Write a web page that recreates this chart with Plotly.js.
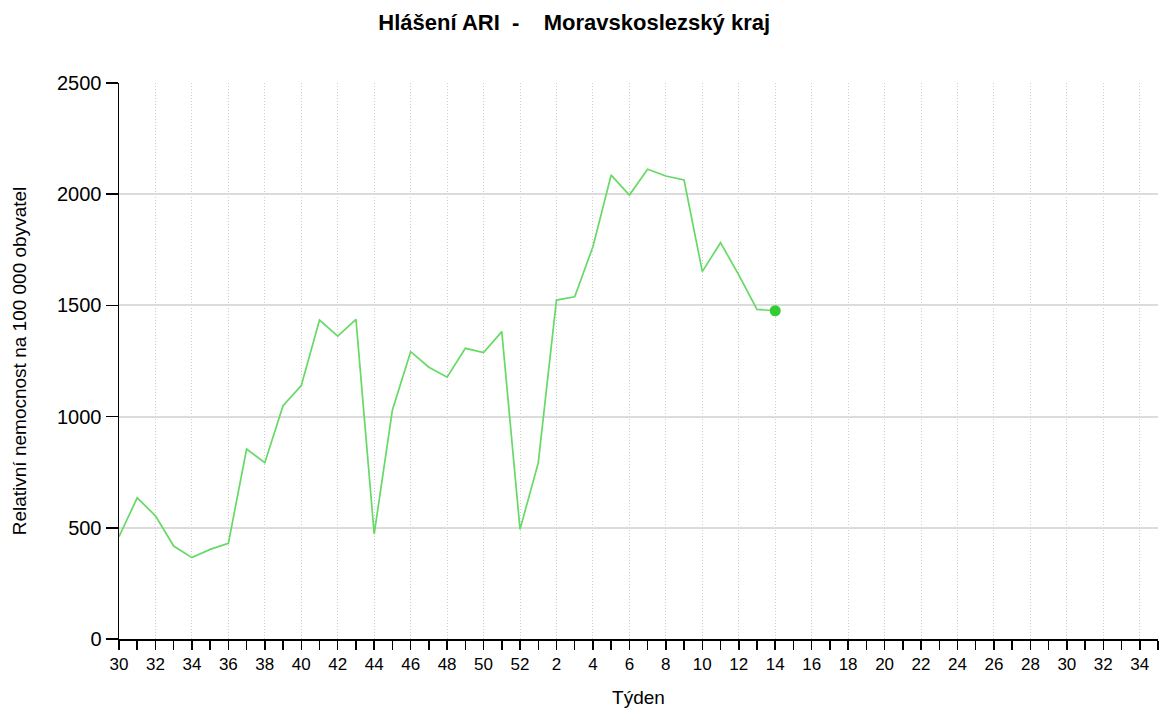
<!DOCTYPE html>
<html>
<head>
<meta charset="utf-8">
<script src="https://cdn.plot.ly/plotly-3.0.1.min.js"></script>
<style>html,body{margin:0;padding:0;background:#fff;}#chart{width:1160px;height:709px;}</style>
</head>
<body>
<div id="chart"></div>
<script>
// Week labels along the x axis (season week 30 .. week 35 of next year)
const weeks = [30,31,32,33,34,35,36,37,38,39,40,41,42,43,44,45,46,47,48,49,50,51,52,
               1,2,3,4,5,6,7,8,9,10,11,12,13,14,15,16,17,18,19,20,21,22,23,24,25,26,27,28,29,30,31,32,33,34,35];
// Reported values (weeks 30..52, 1..14)
const values = [460,635,554,418,366,403,430,854,793,1049,1140,1434,1362,1437,472,1030,1292,1222,1177,1307,1288,1382,493,
                792,1524,1539,1764,2086,1996,2112,2082,2064,1652,1782,1637,1482,1476];
const titleText = 'Hlášení ARI  -    Moravskoslezský kraj';
const yTitle = 'Relativní nemocnost na 100 000 obyvatel';
const xTitle = 'Týden';

const xs = values.map((v, i) => i);
const tickIdx = weeks.map((w, i) => i).filter(i => i % 2 === 0);
const tickTxt = tickIdx.map(i => String(weeks[i]));
const last = values.length - 1;

const FONT = 'Liberation Sans, Arial, sans-serif';

const traces = [
  {x: xs, y: values, type: 'scatter', mode: 'lines',
   line: {color: '#66d966', width: 1.7}, hoverinfo: 'x+y', showlegend: false},
  {x: [xs[last]], y: [values[last]], type: 'scatter', mode: 'markers',
   marker: {color: '#33cc33', size: 11}, showlegend: false}
];

const layout = {
  width: 1160, height: 709,
  margin: {l: 119, r: 2, t: 83, b: 70},
  paper_bgcolor: '#fff', plot_bgcolor: '#fff',
  font: {family: FONT, color: '#000'},
  title: {text: '<b>' + titleText + '</b>', x: 0.495, xanchor: 'center', y: 0.968, yanchor: 'middle',
          font: {size: 22, family: FONT, color: '#000'}},
  xaxis: {
    range: [0, weeks.length - 1],
    tickmode: 'array', tickvals: tickIdx, ticktext: tickTxt,
    ticks: 'outside', ticklen: 9, tickwidth: 1.5, tickcolor: '#000',
    showline: true, linecolor: '#000', linewidth: 1.5,
    showgrid: true, gridcolor: '#cfcfcf', griddash: '1px,2px', gridwidth: 1,
    zeroline: false,
    tickfont: {size: 17, color: '#000'},
    minor: {tickmode: 'linear', tick0: 0, dtick: 1, ticks: 'outside', ticklen: 9, tickwidth: 1.5, tickcolor: '#000', showgrid: false},
    title: {text: xTitle, font: {size: 19, color: '#000'}, standoff: 18}
  },
  yaxis: {
    range: [0, 2500],
    tickvals: [0, 500, 1000, 1500, 2000, 2500],
    ticks: 'outside', ticklen: 12, tickwidth: 1.5, tickcolor: '#000',
    showline: true, linecolor: '#000', linewidth: 1.5,
    showgrid: true, gridcolor: '#dcdcdc', gridwidth: 1.8,
    zeroline: false,
    tickfont: {size: 20, color: '#000'},
    title: {text: yTitle, font: {size: 19, color: '#000'}, standoff: 25}
  }
};

Plotly.newPlot('chart', traces, layout, {displayModeBar: false, staticPlot: true});
</script>
</body>
</html>
